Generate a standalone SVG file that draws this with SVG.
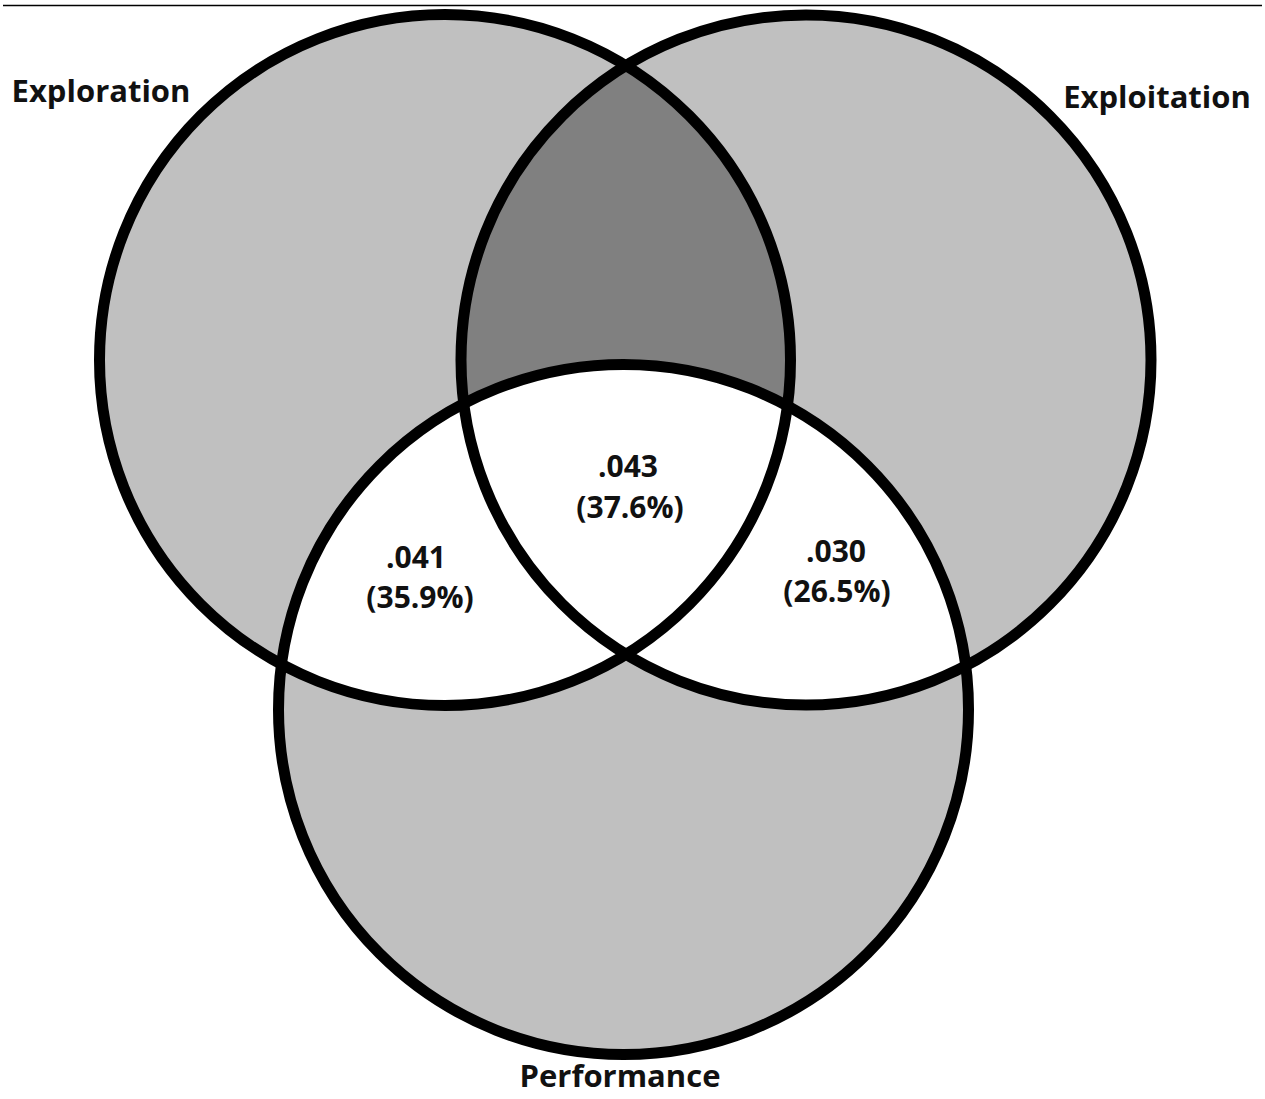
<svg xmlns="http://www.w3.org/2000/svg" width="1265" height="1099" viewBox="0 0 1265 1099">
<style>
.ring{fill:none;stroke:#000;stroke-width:11}
.lbl{font-family:"Open Sans","Liberation Sans",sans-serif;font-weight:700;fill:#111;text-anchor:middle}
.big{font-size:31px}
.num{font-size:30px}
</style>
<defs>
<clipPath id="clipA"><circle cx="445" cy="360" r="345.5"/></clipPath>
<clipPath id="clipB"><circle cx="806" cy="360" r="345"/></clipPath>
</defs>
<rect width="1265" height="1099" fill="#fff"/>
<line x1="3" y1="5.5" x2="1262" y2="5.5" stroke="#000" stroke-width="1.5"/>
<g id="fills">
<circle cx="445" cy="360" r="345.5" fill="#c0c0c0"/>
<circle cx="806" cy="360" r="345" fill="#c0c0c0"/>
<circle cx="806" cy="360" r="345" fill="#808080" clip-path="url(#clipA)"/>
<circle cx="623.5" cy="709.5" r="345" fill="#c0c0c0"/>
<circle cx="623.5" cy="709.5" r="345" fill="#fff" clip-path="url(#clipA)"/>
<circle cx="623.5" cy="709.5" r="345" fill="#fff" clip-path="url(#clipB)"/>
</g>
<g id="exploration"><circle class="ring" cx="445" cy="360" r="345.5"/><text class="lbl big" x="101" y="102">Exploration</text></g>
<g id="exploitation"><circle class="ring" cx="806" cy="360" r="345"/><text class="lbl big" x="1157" y="108">Exploitation</text></g>
<g id="performance"><circle class="ring" cx="623.5" cy="709.5" r="345"/><text class="lbl big" x="620" y="1087">Performance</text></g>
<g id="connectors"></g>
<g id="values">
<text class="lbl num" x="628" y="477">.043</text>
<text class="lbl num" x="630" y="518">(37.6%)</text>
<text class="lbl num" x="416" y="568">.041</text>
<text class="lbl num" x="420" y="608">(35.9%)</text>
<text class="lbl num" x="836" y="562">.030</text>
<text class="lbl num" x="837" y="602">(26.5%)</text>
</g>
</svg>
